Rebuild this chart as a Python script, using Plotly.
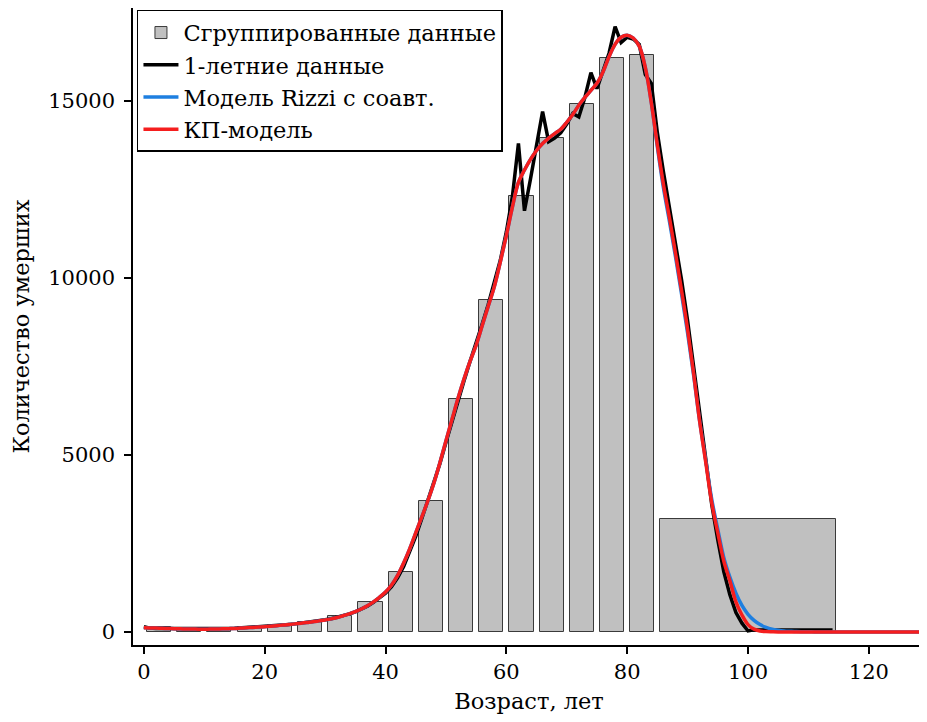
# %% Requirements and constants
import plotly.graph_objects as go

FONT = "DejaVu Serif"

# grouped data: 5-year groups 0-4 ... 80-84, then open group 85+
group_start = [0, 5, 10, 15, 20, 25, 30, 35, 40, 45, 50, 55, 60, 65, 70, 75, 80, 85]
group_end = [4, 9, 14, 19, 24, 29, 34, 39, 44, 49, 54, 59, 64, 69, 74, 79, 84, 114]
group_deaths = [130, 95, 85, 150, 210, 290, 450, 860, 1690, 3700, 6580, 9380,
                12320, 13960, 14920, 16220, 16300, 3190]

# 1-year data, ages 0..114
ages_1y = list(range(0, 115))
deaths_1y = [150, 110, 100, 100, 95, 90, 85, 85, 80, 80,
             80, 85, 85, 90, 100, 105, 115, 125, 135, 145,
             155, 165, 180, 200, 215, 230, 250, 270, 295, 320,
             345, 375, 415, 455, 510, 570, 640, 730, 840, 960,
             1100, 1280, 1530, 1850, 2250, 2700, 3200, 3700, 4200, 4750,
             5350, 5950, 6500, 7100, 7650, 8150, 8700, 9250, 9850, 10500,
             11300, 12300, 13800, 11900, 12800, 13750, 14700, 13850, 13950, 14100,
             14350, 14650, 14550, 15100, 15800, 15350, 15850, 16350, 17100, 16650,
             16800, 16750, 16600, 15750, 15500, 14100, 13000, 12000, 11000, 9950,
             8800, 7500, 6150, 4850, 3600, 2600, 1700, 1050, 550, 250,
             30, 60, 60, 60, 60, 60, 60, 60, 60, 60,
             60, 60, 60, 60, 60]

# KP model, ages 0..129
ages_model = list(range(0, 130))
kp_model = [120, 115, 110, 105, 100, 95, 90, 86, 83, 81,
            80, 82, 85, 90, 95, 100, 110, 120, 130, 140,
            150, 165, 180, 195, 210, 230, 250, 270, 290, 315,
            340, 370, 410, 460, 510, 575, 650, 740, 850, 980,
            1130, 1330, 1600, 1950, 2350, 2800, 3250, 3700, 4200, 4780,
            5400, 6000, 6600, 7150, 7650, 8100, 8650, 9200, 9750, 10450,
            11200, 12000, 12700, 13050, 13350, 13600, 13800, 13950, 14080, 14200,
            14400, 14620, 14880, 15100, 15300, 15500, 15820, 16250, 16600, 16800,
            16860, 16780, 16550, 15950, 14950, 13750, 12650, 11700, 10700, 9650,
            8550, 7300, 5950, 4800, 3650, 2800, 2000, 1450, 850, 480,
            210, 80, 30, 12, 5, 0, 0, 0, 0, 0,
            0, 0, 0, 0, 0, 0, 0, 0, 0, 0,
            0, 0, 0, 0, 0, 0, 0, 0, 0, 0]

# Rizzi et al. model, ages 0..129
rizzi_model = [120, 115, 110, 105, 100, 95, 90, 86, 83, 81,
               80, 82, 85, 90, 95, 100, 110, 120, 130, 140,
               150, 165, 180, 195, 210, 230, 250, 270, 290, 315,
               340, 370, 410, 460, 510, 575, 650, 740, 850, 980,
               1130, 1330, 1600, 1950, 2350, 2800, 3250, 3700, 4200, 4780,
               5400, 6000, 6600, 7150, 7650, 8100, 8650, 9200, 9750, 10450,
               11200, 12000, 12700, 13050, 13350, 13600, 13800, 13950, 14080, 14200,
               14400, 14620, 14880, 15100, 15300, 15500, 15820, 16250, 16600, 16800,
               16860, 16780, 16550, 15950, 14950, 13700, 12550, 11600, 10600, 9550,
               8450, 7250, 5950, 4850, 3750, 2900, 2100, 1550, 1100, 750,
               500, 330, 210, 130, 80, 50, 30, 20, 12, 8,
               5, 3, 0, 0, 0, 0, 0, 0, 0, 0,
               0, 0, 0, 0, 0, 0, 0, 0, 0, 0]

x_ticks = [0, 20, 40, 60, 80, 100, 120]
y_ticks = [0, 5000, 10000, 15000]

# %% Figure
bar_x = [(a + b + 1) / 2 for a, b in zip(group_start, group_end)]
bar_w = [b - a for a, b in zip(group_start, group_end)]

fig = go.Figure()
fig.add_trace(go.Bar(
    x=bar_x, y=group_deaths, width=bar_w,
    marker=dict(color="#c0c0c0", line=dict(color="#3a3a3a", width=1)),
    name="Сгруппированные данные",
))
fig.add_trace(go.Scatter(
    x=ages_1y, y=deaths_1y, mode="lines",
    line=dict(color="black", width=3.5),
    name="1-летние данные",
))
fig.add_trace(go.Scatter(
    x=ages_model, y=rizzi_model, mode="lines", line_shape="spline",
    line=dict(color="#1e7fe0", width=3.5),
    name="Модель Rizzi с соавт.",
))
fig.add_trace(go.Scatter(
    x=ages_model, y=kp_model, mode="lines", line_shape="spline",
    line=dict(color="#f51e1e", width=3.5),
    name="КП-модель",
))

axis_common = dict(
    showline=True, linecolor="black", linewidth=1.5,
    ticks="outside", ticklen=7, tickwidth=1.5, tickcolor="black",
    showgrid=False, zeroline=False, automargin=False,
    tickfont=dict(family=FONT, size=21, color="black"),
)

# the page adds 8px of body margin, so the figure is shrunk and shifted back by that
fig.update_layout(
    width=919, height=714,
    margin=dict(l=125, r=2, t=0, b=77),
    paper_bgcolor="white", plot_bgcolor="white",
    font=dict(family=FONT, size=22, color="black"),
    showlegend=True,
    legend=dict(
        x=0.005, y=0.997, xanchor="left", yanchor="top",
        bgcolor="white", bordercolor="black", borderwidth=1.5,
        font=dict(family=FONT, size=22.5, color="black"),
        tracegroupgap=0, itemwidth=35,
    ),
    bargap=0,
    xaxis=dict(
        range=[-1.8, 129.3], tickvals=x_ticks, ticklabelstandoff=0,
        title=dict(text="Возраст, лет", font=dict(family=FONT, size=22.5), standoff=10),
        **axis_common,
    ),
    yaxis=dict(
        range=[-367, 17627], tickvals=y_ticks, tickformat="d", ticklabelstandoff=5,
        title=dict(text="Количество умерших", font=dict(family=FONT, size=22.5), standoff=14),
        **axis_common,
    ),
)

fig.write_html("out.html")
